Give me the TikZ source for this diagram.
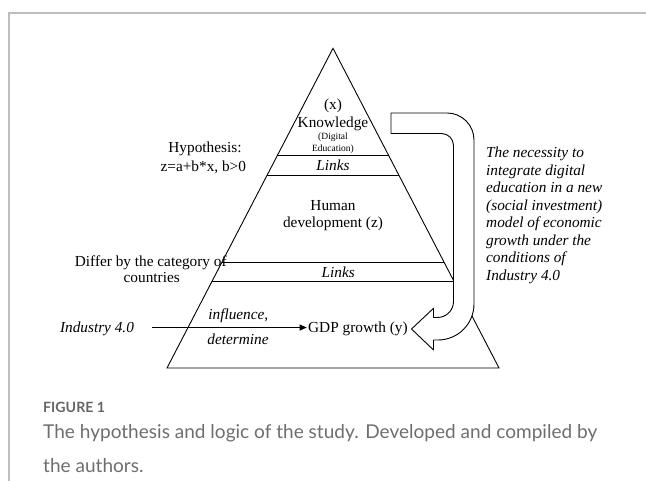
\documentclass[tikz,border=0pt]{standalone}
\usepackage{fontspec}
\usepackage{graphicx}
\setmainfont{Liberation Serif}
\newfontfamily\capfont{Lato}
\usetikzlibrary{calc,arrows.meta}
\definecolor{framegray}{HTML}{BDBDBD}
\definecolor{capgray}{HTML}{6E6E6E}
\definecolor{figgray}{HTML}{666666}
\begin{document}
\begin{tikzpicture}[x=1pt,y=1pt,
  lbl/.style={inner sep=0pt, anchor=base, font=\fontsize{15.3}{17.5}\selectfont},
  ilbl/.style={inner sep=0pt, anchor=base, font=\fontsize{15.3}{17.5}\selectfont\itshape},
  smalllbl/.style={inner sep=0pt, anchor=base, font=\fontsize{9.5}{11.5}\selectfont},
  rline/.style={inner sep=0pt, anchor=base west, font=\fontsize{15.3}{17.5}\selectfont\itshape},
  edge/.style={line width=0.9pt},
  tierline/.style={line width=0.8pt},
  uarrow/.style={draw, fill=white, line width=0.9pt, line join=round},
  flow/.style={line width=0.9pt, -{Triangle[length=7pt,width=6pt]}},
  capstyle/.style={inner sep=0pt, anchor=base west, text=capgray},
]
\useasboundingbox (0,0) rectangle (646,481);
% frame
\coordinate (f1) at (9,0);
\coordinate (f2) at (9,468);
\coordinate (f3) at (646,468);
\draw[framegray, line width=1.5pt] (f1) -- (f2) -- (f3);

% pyramid
\coordinate (apex) at (333,432.7);
\coordinate (bl) at (167,113);
\coordinate (br) at (499,113);
\draw[edge, line join=miter] (apex) -- (br) -- (bl) -- cycle;
\foreach \t/\n in {0.3347/l1, 0.3972/l2, 0.6694/l3, 0.7301/l4} {
  \coordinate (\n-a) at ($(apex)!\t!(bl)$);
  \coordinate (\n-b) at ($(apex)!\t!(br)$);
  \draw[tierline] (\n-a) -- (\n-b);
}

% U-turn block arrow
\draw[uarrow] (391,368) -- (447,368) arc[start angle=90, end angle=0, radius=27]
  -- (474,177) arc[start angle=0, end angle=-90, radius=36]
  -- (433.5,141) -- (433.5,131) -- (411.5,152) -- (433.5,172.7) -- (433.5,163.5)
  -- (437.5,163.5) arc[start angle=-90, end angle=0, radius=16]
  -- (453.5,335.5) arc[start angle=0, end angle=90, radius=12]
  -- (391,347.5) -- cycle;

% pyramid texts
\node[lbl] (xlab) at (333,371.5) {(x)};
\node[lbl] (know) at (333,353.5) {Knowledge};
\node[smalllbl] (dig) at (333,341) {(Digital};
\node[smalllbl] (edu) at (333,329.5) {Education)};
\node[ilbl] (links1) at (333,310) {Links};
\node[lbl] (human) at (333,270) {Human};
\node[lbl] (devz) at (333,253) {development (z)};
\node[ilbl] (links2) at (338.3,203) {Links};
\node[ilbl] (infl) at (238.3,161.5) {influence,};
\node[ilbl] (det) at (238,136.5) {determine};

% left texts
\node[lbl] (hyp) at (205,328) {Hypothesis:};
\node[lbl] (eq) at (203.3,309) {z=a+b*x, b>0};
\node[lbl] (diff) at (150.8,214.5) {Differ by the category of};
\node[lbl] (ctry) at (151.7,198) {countries};
\node[ilbl] (ind) at (97,148) {Industry 4.0};
\node[lbl, anchor=base west] (gdp) at (308,148) {GDP growth (y)};
\draw[flow, shorten <=17.7pt, shorten >=1.3pt] ([yshift=1.8pt]ind.east) -- ([yshift=1.8pt]gdp.west);

% right text
\foreach \i/\s in {1/The necessity to, 2/integrate digital, 3/education in a new, 4/(social investment), 5/model of economic, 6/growth under the, 7/conditions of, 8/Industry 4.0} {
  \node[rline] (r\i) at (486,{323-17.5*(\i-1)}) {\s};
}

% caption
\node[capstyle, text=figgray, font=\capfont\bfseries\fontsize{14}{16}\selectfont] (fig) at (43,68.5) {\resizebox{62pt}{!}{FIGURE 1}};
\node[capstyle, font=\capfont\fontsize{17}{30.8}\selectfont] (cap) at (43,8.5) {\resizebox{554pt}{!}{\vbox{\baselineskip=30.5pt\hbox{The hypothesis and logic of the study. Developed and compiled by}\hbox{the authors.}}}};
\end{tikzpicture}
\end{document}
